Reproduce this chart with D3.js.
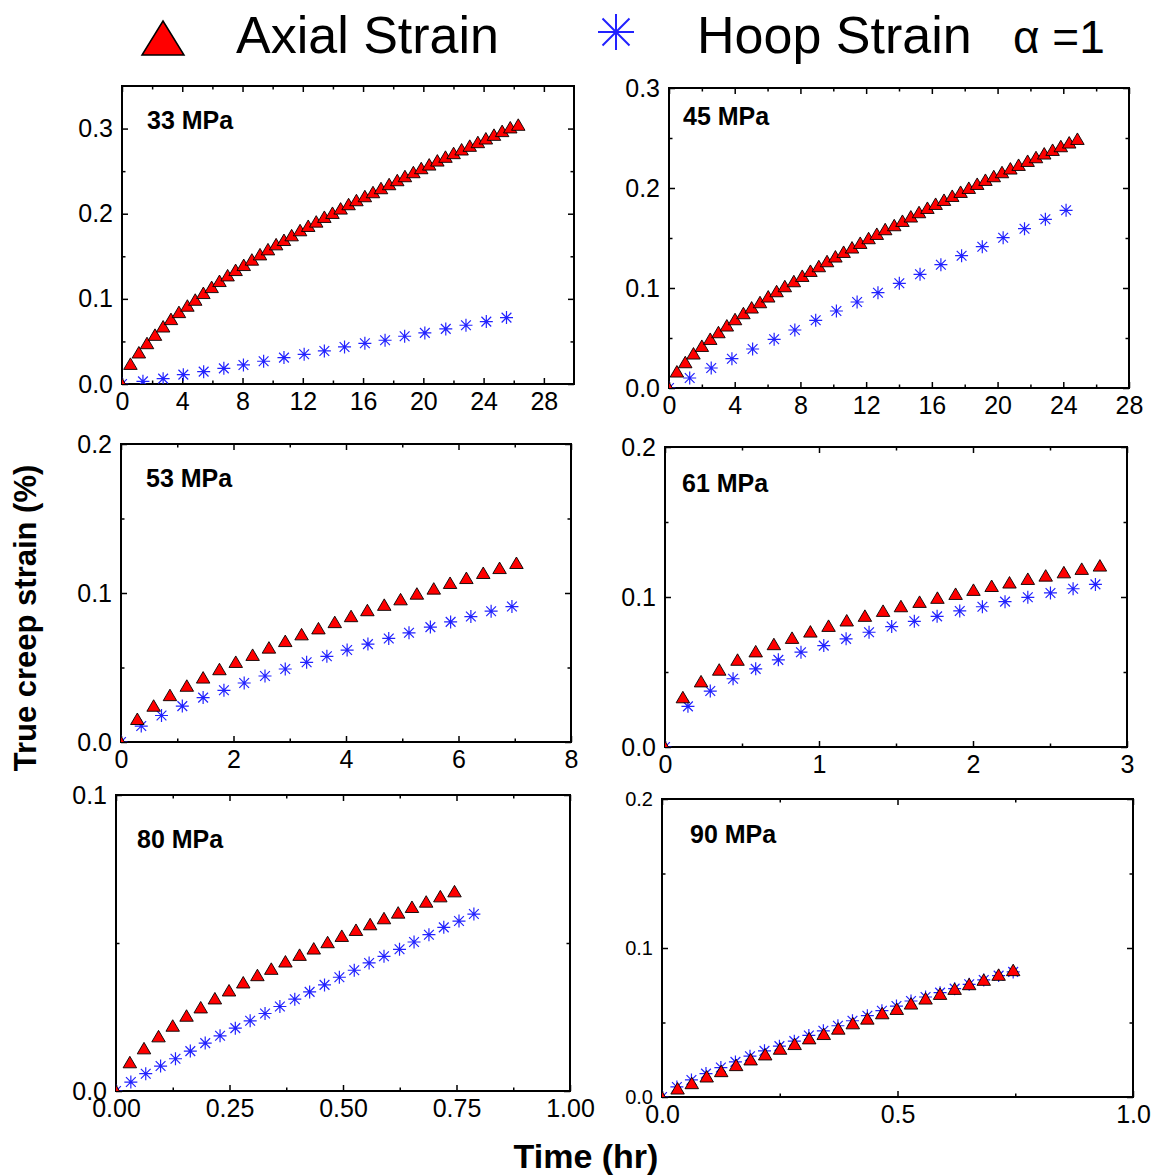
<!DOCTYPE html>
<html>
<head>
  <meta charset="UTF-8">
  <title>True creep strain</title>
  <script src="https://cdnjs.cloudflare.com/ajax/libs/d3/7.8.5/d3.min.js"></script>
  <style>
    body { margin: 0; background: #fff; }
    text { font-family: "Liberation Sans", Arial, sans-serif; fill: #000; }
    .tick line { stroke: #000; stroke-width: 1.5px; }
    .frame { fill: none; stroke: #000; stroke-width: 2px; }
    .panel-label { font-weight: bold; font-size: 25px; }
  </style>
</head>
<body>
<script>
// ---- data (time in hr, strain in %) ----
const panelNames = ["33 MPa", "45 MPa", "53 MPa", "61 MPa", "80 MPa", "90 MPa"];

const axial33T = [0, 0.56, 1.12, 1.66, 2.19, 2.73, 3.25, 3.78, 4.34, 4.86, 5.40, 5.95, 6.47, 7.01, 7.54, 8.08, 8.62, 9.16, 9.69, 10.23, 10.75, 11.26, 11.82, 12.36, 12.89, 13.43, 13.97, 14.51, 15.04, 15.56, 16.12, 16.66, 17.19, 17.73, 18.27, 18.78, 19.34, 19.86, 20.39, 20.93, 21.47, 22.01, 22.54, 23.08, 23.62, 24.15, 24.69, 25.23, 25.77, 26.30];
const axial33 = [0, 0.0239, 0.0373, 0.0482, 0.0580, 0.0678, 0.0765, 0.0847, 0.0922, 0.0992, 0.1071, 0.1141, 0.1212, 0.1278, 0.1341, 0.1400, 0.1463, 0.1525, 0.1584, 0.1643, 0.1694, 0.1749, 0.1808, 0.1859, 0.1910, 0.1965, 0.2012, 0.2063, 0.2114, 0.2161, 0.2208, 0.2255, 0.2302, 0.2349, 0.2396, 0.2443, 0.2490, 0.2537, 0.2580, 0.2627, 0.2671, 0.2714, 0.2757, 0.2800, 0.2843, 0.2886, 0.2929, 0.2973, 0.3016, 0.3047];
const hoop33T = [0, 1.39, 2.73, 4.07, 5.42, 6.76, 8.06, 9.40, 10.75, 12.09, 13.43, 14.77, 16.12, 17.46, 18.76, 20.10, 21.49, 22.83, 24.18, 25.52];
const hoop33 = [0, 0.0031, 0.0063, 0.0110, 0.0145, 0.0184, 0.0224, 0.0267, 0.0310, 0.0349, 0.0388, 0.0435, 0.0478, 0.0514, 0.0561, 0.0600, 0.0647, 0.0690, 0.0733, 0.0780];

const axial45T = [0, 0.48, 0.99, 1.49, 2.00, 2.51, 3.01, 3.52, 4.02, 4.53, 5.03, 5.54, 6.04, 6.55, 7.05, 7.60, 8.11, 8.61, 9.12, 9.62, 10.13, 10.63, 11.14, 11.64, 12.15, 12.65, 13.16, 13.71, 14.21, 14.72, 15.22, 15.73, 16.23, 16.74, 17.24, 17.75, 18.25, 18.76, 19.26, 19.77, 20.27, 20.78, 21.28, 21.83, 22.34, 22.84, 23.35, 23.85, 24.36, 24.86];
const axial45 = [0, 0.0167, 0.0260, 0.0347, 0.0423, 0.0493, 0.0560, 0.0627, 0.0690, 0.0750, 0.0807, 0.0860, 0.0917, 0.0970, 0.1020, 0.1070, 0.1123, 0.1173, 0.1220, 0.1270, 0.1317, 0.1363, 0.1407, 0.1453, 0.1500, 0.1543, 0.1590, 0.1630, 0.1673, 0.1717, 0.1760, 0.1803, 0.1843, 0.1883, 0.1923, 0.1963, 0.2003, 0.2043, 0.2083, 0.2120, 0.2160, 0.2197, 0.2233, 0.2273, 0.2310, 0.2347, 0.2383, 0.2420, 0.2457, 0.2493];
const hoop45T = [0, 1.26, 2.57, 3.83, 5.09, 6.40, 7.66, 8.93, 10.19, 11.45, 12.72, 14.02, 15.28, 16.55, 17.81, 19.07, 20.34, 21.64, 22.91, 24.17];
const hoop45 = [0, 0.0100, 0.0200, 0.0293, 0.0390, 0.0487, 0.0580, 0.0677, 0.0770, 0.0860, 0.0953, 0.1047, 0.1137, 0.1233, 0.1323, 0.1413, 0.1503, 0.1593, 0.1687, 0.1777];

const axial53T = [0, 0.29, 0.58, 0.87, 1.17, 1.46, 1.75, 2.04, 2.34, 2.63, 2.92, 3.21, 3.51, 3.80, 4.09, 4.38, 4.68, 4.97, 5.26, 5.56, 5.85, 6.14, 6.44, 6.73, 7.03];
const axial53 = [0, 0.0156, 0.0245, 0.0316, 0.0379, 0.0434, 0.0490, 0.0539, 0.0586, 0.0635, 0.0679, 0.0724, 0.0764, 0.0806, 0.0846, 0.0886, 0.0922, 0.0959, 0.0997, 0.1031, 0.1069, 0.1102, 0.1136, 0.1169, 0.1203];
const hoop53T = [0, 0.36, 0.72, 1.09, 1.46, 1.83, 2.19, 2.56, 2.92, 3.30, 3.66, 4.02, 4.39, 4.76, 5.12, 5.50, 5.86, 6.22, 6.58, 6.95];
const hoop53 = [0, 0.0107, 0.0178, 0.0241, 0.0298, 0.0347, 0.0396, 0.0443, 0.0490, 0.0535, 0.0575, 0.0617, 0.0657, 0.0695, 0.0733, 0.0771, 0.0806, 0.0842, 0.0878, 0.0909];

const axial61T = [0, 0.116, 0.234, 0.352, 0.471, 0.589, 0.707, 0.825, 0.944, 1.062, 1.180, 1.298, 1.416, 1.532, 1.653, 1.769, 1.887, 2.003, 2.121, 2.237, 2.356, 2.472, 2.590, 2.706, 2.824];
const axial61 = [0, 0.0333, 0.0439, 0.0517, 0.0583, 0.0639, 0.0687, 0.0729, 0.0771, 0.0809, 0.0845, 0.0876, 0.0909, 0.0940, 0.0969, 0.0996, 0.1022, 0.1049, 0.1075, 0.1098, 0.1122, 0.1144, 0.1166, 0.1189, 0.1211];
const hoop61T = [0, 0.149, 0.294, 0.442, 0.589, 0.736, 0.883, 1.031, 1.176, 1.325, 1.472, 1.619, 1.767, 1.914, 2.061, 2.208, 2.356, 2.503, 2.650, 2.795];
const hoop61 = [0, 0.0271, 0.0373, 0.0455, 0.0521, 0.0581, 0.0632, 0.0676, 0.0721, 0.0765, 0.0803, 0.0838, 0.0871, 0.0907, 0.0935, 0.0969, 0.0998, 0.1027, 0.1055, 0.1084];

const axial80T = [0, 0.0305, 0.0617, 0.0937, 0.1249, 0.1554, 0.1866, 0.2178, 0.2490, 0.2803, 0.3115, 0.3420, 0.3732, 0.4044, 0.4356, 0.4661, 0.4973, 0.5286, 0.5598, 0.5903, 0.6215, 0.6519, 0.6832, 0.7144, 0.7456];
const axial80 = [0, 0.00978, 0.01449, 0.01854, 0.02213, 0.02551, 0.02831, 0.03135, 0.03404, 0.03674, 0.03921, 0.04135, 0.04382, 0.04607, 0.04820, 0.05034, 0.05247, 0.05449, 0.05640, 0.05843, 0.06034, 0.06225, 0.06404, 0.06584, 0.06753];
const hoop80T = [0, 0.0327, 0.0655, 0.0982, 0.1310, 0.1637, 0.1965, 0.2292, 0.2628, 0.2955, 0.3283, 0.3610, 0.3938, 0.4265, 0.4593, 0.4920, 0.5248, 0.5575, 0.5903, 0.6245, 0.6565, 0.6893, 0.7220, 0.7555, 0.7883];
const hoop80 = [0, 0.00303, 0.00584, 0.00843, 0.01090, 0.01348, 0.01618, 0.01865, 0.02124, 0.02371, 0.02618, 0.02854, 0.03101, 0.03348, 0.03584, 0.03843, 0.04079, 0.04326, 0.04551, 0.04787, 0.05034, 0.05281, 0.05528, 0.05742, 0.05978];

const axial90T = [0, 0.0331, 0.0632, 0.0949, 0.1257, 0.1574, 0.1882, 0.2191, 0.2507, 0.2816, 0.3125, 0.3434, 0.3743, 0.4051, 0.4360, 0.4676, 0.4985, 0.5287, 0.5596, 0.5904, 0.6213, 0.6522, 0.6831, 0.7147, 0.7456];
const axial90 = [0, 0.00584, 0.00943, 0.01392, 0.01751, 0.02155, 0.02536, 0.02873, 0.03255, 0.03569, 0.03951, 0.04242, 0.04602, 0.04961, 0.05275, 0.05634, 0.05926, 0.06285, 0.06622, 0.06936, 0.07273, 0.07587, 0.07879, 0.08216, 0.08530];
const hoop90T = [0, 0.0316, 0.0625, 0.0934, 0.1250, 0.1559, 0.1868, 0.2176, 0.2493, 0.2809, 0.3118, 0.3426, 0.3735, 0.4044, 0.4360, 0.4669, 0.4978, 0.5287, 0.5596, 0.5904, 0.6213, 0.6522, 0.6831, 0.7147, 0.7456];
const hoop90 = [0, 0.00673, 0.01145, 0.01571, 0.01975, 0.02357, 0.02738, 0.03098, 0.03412, 0.03749, 0.04130, 0.04444, 0.04781, 0.05118, 0.05455, 0.05791, 0.06105, 0.06442, 0.06712, 0.07003, 0.07273, 0.07565, 0.07856, 0.08148, 0.08395];

// axis domains and tick values
const xMax = [30, 28, 8, 3, 1.0, 1.0];
const yMax = [0.35, 0.3, 0.2, 0.2, 0.1, 0.2];
const xTicks = [
  [0, 4, 8, 12, 16, 20, 24, 28],
  [0, 4, 8, 12, 16, 20, 24, 28],
  [0, 2, 4, 6, 8],
  [0, 1, 2, 3],
  [0, 0.25, 0.5, 0.75, 1.0],
  [0, 0.5, 1.0]
];
const xMinor = [
  [2, 6, 10, 14, 18, 22, 26],
  [2, 6, 10, 14, 18, 22, 26],
  [1, 3, 5, 7],
  [0.5, 1.5, 2.5],
  [0.125, 0.375, 0.625, 0.875],
  [0.25, 0.75]
];
const yTicks = [
  [0, 0.1, 0.2, 0.3],
  [0, 0.1, 0.2, 0.3],
  [0, 0.1, 0.2],
  [0, 0.1, 0.2],
  [0, 0.1],
  [0, 0.1, 0.2]
];
const yMinor = [
  [0.05, 0.15, 0.25],
  [0.05, 0.15, 0.25],
  [0.05, 0.15],
  [0.05, 0.15],
  [0.05],
  [0.05, 0.15]
];
const xFormat = [".0f", ".0f", ".0f", ".0f", ".2f", ".1f"];

const axialT = [axial33T, axial45T, axial53T, axial61T, axial80T, axial90T];
const axialV = [axial33, axial45, axial53, axial61, axial80, axial90];
const hoopT = [hoop33T, hoop45T, hoop53T, hoop61T, hoop80T, hoop90T];
const hoopV = [hoop33, hoop45, hoop53, hoop61, hoop80, hoop90];

// ---- layout ----
const W = 1154, H = 1176;
const frames = [
  {l: 122, r: 574, t: 86, b: 384, lx: 147, ly: 129, yfs: 25},
  {l: 669, r: 1129, t: 88, b: 388, lx: 683, ly: 125, yfs: 25},
  {l: 121, r: 571, t: 444, b: 742, lx: 146, ly: 487, yfs: 25},
  {l: 665, r: 1127, t: 447, b: 747, lx: 682, ly: 492, yfs: 25},
  {l: 116, r: 570, t: 795, b: 1091, lx: 137, ly: 848, yfs: 25},
  {l: 662, r: 1133, t: 799, b: 1097, lx: 690, ly: 843, yfs: 20}
];
const RED = "#ff0000", BLUE = "#2222ff";

const svg = d3.select("body").append("svg")
  .attr("width", W).attr("height", H)
  .style("background", "#fff");

function triPath(w, h) {
  return `M0,${-h / 2}L${w / 2},${h / 2}L${-w / 2},${h / 2}Z`;
}
function starPath(r) {
  const d = r * 0.75;
  return `M0,${-r}V${r}M${-r},0H${r}M${-d},${-d}L${d},${d}M${-d},${d}L${d},${-d}`;
}

frames.forEach((f, i) => {
  const x = d3.scaleLinear().domain([0, xMax[i]]).range([f.l, f.r]);
  const y = d3.scaleLinear().domain([0, yMax[i]]).range([f.b, f.t]);
  const g = svg.append("g");

  // ticks, inward on all four sides
  const bottom = g.append("g").attr("transform", `translate(0,${f.b})`)
    .call(d3.axisBottom(x).tickValues(xTicks[i]).tickSize(-6).tickPadding(8)
      .tickFormat(d3.format(xFormat[i])));
  bottom.selectAll("text").style("font-size", "25px");
  g.append("g").attr("transform", `translate(0,${f.b})`)
    .call(d3.axisBottom(x).tickValues(xMinor[i]).tickSize(-3.5).tickFormat(""));
  g.append("g").attr("transform", `translate(0,${f.t})`)
    .call(d3.axisTop(x).tickValues(xTicks[i]).tickSize(-6).tickFormat(""));
  g.append("g").attr("transform", `translate(0,${f.t})`)
    .call(d3.axisTop(x).tickValues(xMinor[i]).tickSize(-3.5).tickFormat(""));

  const left = g.append("g").attr("transform", `translate(${f.l},0)`)
    .call(d3.axisLeft(y).tickValues(yTicks[i]).tickSize(-6).tickPadding(9)
      .tickFormat(d3.format(".1f")));
  left.selectAll("text").style("font-size", f.yfs + "px");
  g.append("g").attr("transform", `translate(${f.l},0)`)
    .call(d3.axisLeft(y).tickValues(yMinor[i]).tickSize(-3.5).tickFormat(""));
  g.append("g").attr("transform", `translate(${f.r},0)`)
    .call(d3.axisRight(y).tickValues(yTicks[i]).tickSize(-6).tickFormat(""));
  g.append("g").attr("transform", `translate(${f.r},0)`)
    .call(d3.axisRight(y).tickValues(yMinor[i]).tickSize(-3.5).tickFormat(""));
  g.selectAll(".domain").remove();

  g.append("rect").attr("class", "frame")
    .attr("x", f.l).attr("y", f.t)
    .attr("width", f.r - f.l).attr("height", f.b - f.t);

  // markers clipped to the plot box
  const clipId = "clip" + i;
  svg.append("clipPath").attr("id", clipId).append("rect")
    .attr("x", f.l).attr("y", f.t).attr("width", f.r - f.l).attr("height", f.b - f.t);
  const marks = g.append("g").attr("clip-path", `url(#${clipId})`);

  const hoop = hoopT[i].map((t, k) => [t, hoopV[i][k]]);
  const axial = axialT[i].map((t, k) => [t, axialV[i][k]]);

  marks.selectAll(".hoop").data(hoop).enter().append("path")
    .attr("class", "hoop")
    .attr("transform", d => `translate(${x(d[0])},${y(d[1])})`)
    .attr("d", starPath(6.5))
    .attr("fill", "none").attr("stroke", BLUE).attr("stroke-width", 1.2);

  marks.selectAll(".axial").data(axial).enter().append("path")
    .attr("class", "axial")
    .attr("transform", d => `translate(${x(d[0])},${y(d[1])})`)
    .attr("d", triPath(13.5, 11.5))
    .attr("fill", RED).attr("stroke", "#000").attr("stroke-width", 0.9);

  g.append("text").attr("class", "panel-label")
    .attr("x", f.lx).attr("y", f.ly).text(panelNames[i]);
});

// ---- legend ----
svg.append("path").attr("transform", "translate(163,38)")
  .attr("d", triPath(42, 34))
  .attr("fill", RED).attr("stroke", "#000").attr("stroke-width", 1.5);
svg.append("text").attr("x", 236).attr("y", 53)
  .style("font-size", "52px").text("Axial Strain");
svg.append("path").attr("transform", "translate(616,32)")
  .attr("d", starPath(18))
  .attr("fill", "none").attr("stroke", BLUE).attr("stroke-width", 2);
svg.append("text").attr("x", 697).attr("y", 53)
  .style("font-size", "52px").text("Hoop Strain");
svg.append("text").attr("x", 1013).attr("y", 53)
  .style("font-size", "46px").text("α =1");

// ---- axis titles ----
svg.append("text")
  .attr("transform", "translate(36,618) rotate(-90)")
  .attr("text-anchor", "middle")
  .style("font-size", "31px").style("font-weight", "bold")
  .text("True creep strain (%)");
svg.append("text").attr("x", 586).attr("y", 1168)
  .attr("text-anchor", "middle")
  .style("font-size", "34px").style("font-weight", "bold")
  .text("Time (hr)");
</script>
</body>
</html>
